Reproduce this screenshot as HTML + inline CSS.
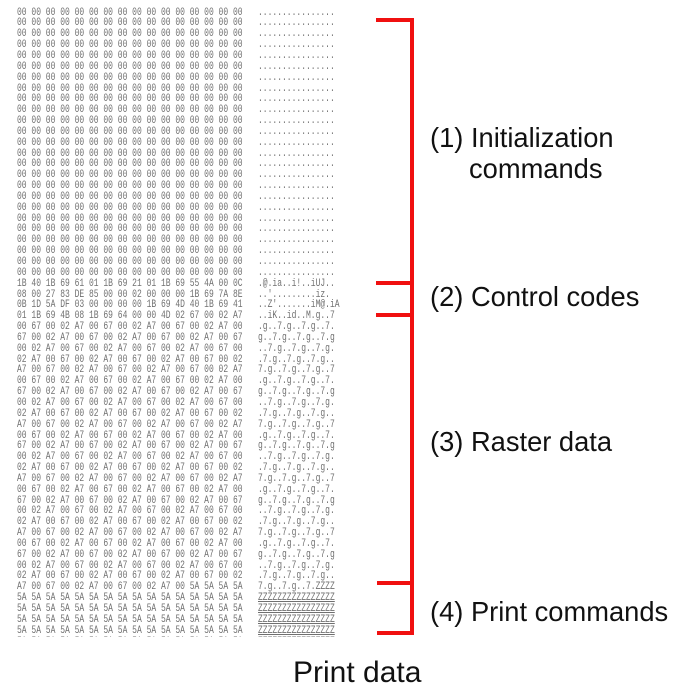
<!DOCTYPE html>
<html><head><meta charset="utf-8"><style>
html,body{margin:0;padding:0;background:#fff;width:685px;height:700px;overflow:hidden;position:relative}
.dump{position:absolute;top:0;left:0;height:637px;width:360px;overflow:hidden}
pre{position:absolute;margin:0;font-family:"Liberation Mono",monospace;font-size:11px;line-height:10.85px;color:#707070;transform:scaleX(0.727);transform-origin:0 0;top:7.6px}
.lab{position:absolute;font-family:"Liberation Sans",Arial,sans-serif;font-size:27.3px;color:#111;white-space:nowrap;line-height:1}
.r{position:absolute;background:#f01010}
</style></head><body>
<div class="dump">
<pre style="left:17px">00 00 00 00 00 00 00 00 00 00 00 00 00 00 00 00
00 00 00 00 00 00 00 00 00 00 00 00 00 00 00 00
00 00 00 00 00 00 00 00 00 00 00 00 00 00 00 00
00 00 00 00 00 00 00 00 00 00 00 00 00 00 00 00
00 00 00 00 00 00 00 00 00 00 00 00 00 00 00 00
00 00 00 00 00 00 00 00 00 00 00 00 00 00 00 00
00 00 00 00 00 00 00 00 00 00 00 00 00 00 00 00
00 00 00 00 00 00 00 00 00 00 00 00 00 00 00 00
00 00 00 00 00 00 00 00 00 00 00 00 00 00 00 00
00 00 00 00 00 00 00 00 00 00 00 00 00 00 00 00
00 00 00 00 00 00 00 00 00 00 00 00 00 00 00 00
00 00 00 00 00 00 00 00 00 00 00 00 00 00 00 00
00 00 00 00 00 00 00 00 00 00 00 00 00 00 00 00
00 00 00 00 00 00 00 00 00 00 00 00 00 00 00 00
00 00 00 00 00 00 00 00 00 00 00 00 00 00 00 00
00 00 00 00 00 00 00 00 00 00 00 00 00 00 00 00
00 00 00 00 00 00 00 00 00 00 00 00 00 00 00 00
00 00 00 00 00 00 00 00 00 00 00 00 00 00 00 00
00 00 00 00 00 00 00 00 00 00 00 00 00 00 00 00
00 00 00 00 00 00 00 00 00 00 00 00 00 00 00 00
00 00 00 00 00 00 00 00 00 00 00 00 00 00 00 00
00 00 00 00 00 00 00 00 00 00 00 00 00 00 00 00
00 00 00 00 00 00 00 00 00 00 00 00 00 00 00 00
00 00 00 00 00 00 00 00 00 00 00 00 00 00 00 00
00 00 00 00 00 00 00 00 00 00 00 00 00 00 00 00
1B 40 1B 69 61 01 1B 69 21 01 1B 69 55 4A 00 0C
08 00 27 83 DE 85 00 00 02 00 00 00 1B 69 7A 8E
0B 1D 5A DF 03 00 00 00 00 1B 69 4D 40 1B 69 41
01 1B 69 4B 08 1B 69 64 00 00 4D 02 67 00 02 A7
00 67 00 02 A7 00 67 00 02 A7 00 67 00 02 A7 00
67 00 02 A7 00 67 00 02 A7 00 67 00 02 A7 00 67
00 02 A7 00 67 00 02 A7 00 67 00 02 A7 00 67 00
02 A7 00 67 00 02 A7 00 67 00 02 A7 00 67 00 02
A7 00 67 00 02 A7 00 67 00 02 A7 00 67 00 02 A7
00 67 00 02 A7 00 67 00 02 A7 00 67 00 02 A7 00
67 00 02 A7 00 67 00 02 A7 00 67 00 02 A7 00 67
00 02 A7 00 67 00 02 A7 00 67 00 02 A7 00 67 00
02 A7 00 67 00 02 A7 00 67 00 02 A7 00 67 00 02
A7 00 67 00 02 A7 00 67 00 02 A7 00 67 00 02 A7
00 67 00 02 A7 00 67 00 02 A7 00 67 00 02 A7 00
67 00 02 A7 00 67 00 02 A7 00 67 00 02 A7 00 67
00 02 A7 00 67 00 02 A7 00 67 00 02 A7 00 67 00
02 A7 00 67 00 02 A7 00 67 00 02 A7 00 67 00 02
A7 00 67 00 02 A7 00 67 00 02 A7 00 67 00 02 A7
00 67 00 02 A7 00 67 00 02 A7 00 67 00 02 A7 00
67 00 02 A7 00 67 00 02 A7 00 67 00 02 A7 00 67
00 02 A7 00 67 00 02 A7 00 67 00 02 A7 00 67 00
02 A7 00 67 00 02 A7 00 67 00 02 A7 00 67 00 02
A7 00 67 00 02 A7 00 67 00 02 A7 00 67 00 02 A7
00 67 00 02 A7 00 67 00 02 A7 00 67 00 02 A7 00
67 00 02 A7 00 67 00 02 A7 00 67 00 02 A7 00 67
00 02 A7 00 67 00 02 A7 00 67 00 02 A7 00 67 00
02 A7 00 67 00 02 A7 00 67 00 02 A7 00 67 00 02
A7 00 67 00 02 A7 00 67 00 02 A7 00 5A 5A 5A 5A
5A 5A 5A 5A 5A 5A 5A 5A 5A 5A 5A 5A 5A 5A 5A 5A
5A 5A 5A 5A 5A 5A 5A 5A 5A 5A 5A 5A 5A 5A 5A 5A
5A 5A 5A 5A 5A 5A 5A 5A 5A 5A 5A 5A 5A 5A 5A 5A
5A 5A 5A 5A 5A 5A 5A 5A 5A 5A 5A 5A 5A 5A 5A 5A
5A 5A 5A 5A 5A 5A 5A 5A 5A 5A 5A 5A 5A 5A 5A 5A</pre>
<pre style="left:258px">................
................
................
................
................
................
................
................
................
................
................
................
................
................
................
................
................
................
................
................
................
................
................
................
................
.@.ia..i!..iUJ..
..'.........iz.
..Z'.......iM@.iA
..iK..id..M.g..7
.g..7.g..7.g..7.
g..7.g..7.g..7.g
..7.g..7.g..7.g.
.7.g..7.g..7.g..
7.g..7.g..7.g..7
.g..7.g..7.g..7.
g..7.g..7.g..7.g
..7.g..7.g..7.g.
.7.g..7.g..7.g..
7.g..7.g..7.g..7
.g..7.g..7.g..7.
g..7.g..7.g..7.g
..7.g..7.g..7.g.
.7.g..7.g..7.g..
7.g..7.g..7.g..7
.g..7.g..7.g..7.
g..7.g..7.g..7.g
..7.g..7.g..7.g.
.7.g..7.g..7.g..
7.g..7.g..7.g..7
.g..7.g..7.g..7.
g..7.g..7.g..7.g
..7.g..7.g..7.g.
.7.g..7.g..7.g..
7.g..7.g..7.ZZZZ
<u>ZZZZZZZZZZZZZZZZ</u>
<u>ZZZZZZZZZZZZZZZZ</u>
<u>ZZZZZZZZZZZZZZZZ</u>
<u>ZZZZZZZZZZZZZZZZ</u>
<u>ZZZZZZZZZZZZZZZZ</u></pre>
</div>

<div class="r" style="left:410px;top:18px;width:4px;height:617px"></div>
<div class="r" style="left:376px;top:18px;width:38px;height:4px"></div>
<div class="r" style="left:376px;top:281px;width:38px;height:4px"></div>
<div class="r" style="left:376px;top:313px;width:38px;height:4px"></div>
<div class="r" style="left:377px;top:581px;width:37px;height:4px"></div>
<div class="r" style="left:377px;top:631px;width:37px;height:4px"></div>

<div class="lab" style="left:430px;top:124px">(1) Initialization</div>
<div class="lab" style="left:469px;top:155px">commands</div>
<div class="lab" style="left:430px;top:283px">(2) Control codes</div>
<div class="lab" style="left:430px;top:428px">(3) Raster data</div>
<div class="lab" style="left:430px;top:598px">(4) Print commands</div>
<div class="lab" style="left:293px;top:658px;font-size:30px">Print data</div>
</body></html>
